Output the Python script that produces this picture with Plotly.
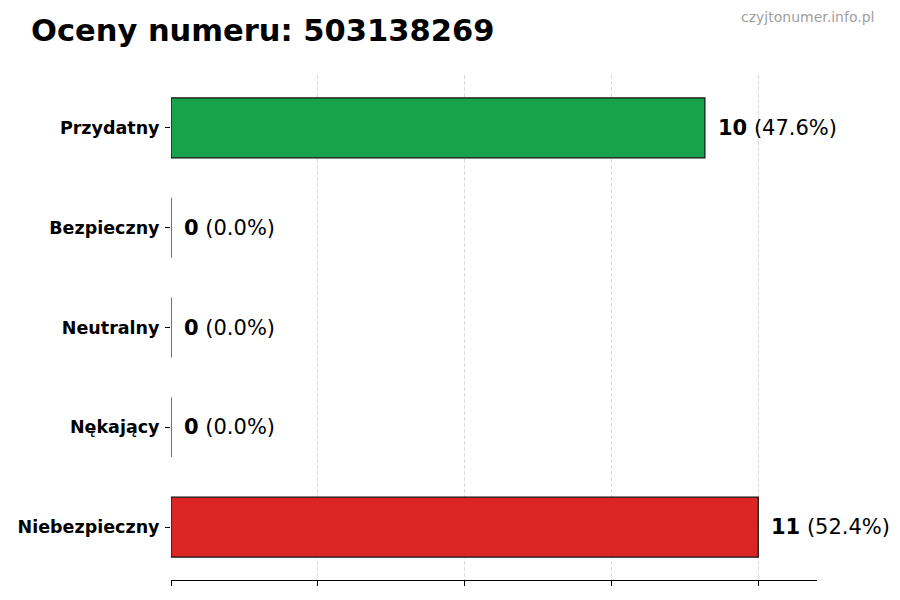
import plotly.graph_objects as go

categories = ["Przydatny", "Bezpieczny", "Neutralny", "Nękający", "Niebezpieczny"]
counts = [10, 0, 0, 0, 11]
percents = [47.6, 0.0, 0.0, 0.0, 52.4]
colors = ["#16a34a", "#16a34a", "#16a34a", "#dc2626", "#dc2626"]
title_text = "Oceny numeru: 503138269"
watermark = "czyjtonumer.info.pl"
x_ticks = [0, 2.75, 5.5, 8.25, 11]

# plot bottom-to-top: reverse order
cats_r = categories[::-1]
counts_r = counts[::-1]
perc_r = percents[::-1]
colors_r = colors[::-1]

W, H = 900, 600
L, R, T, B = 171, 83, 75, 20
plot_h = H - T - B

fig = go.Figure()
fig.add_trace(go.Bar(
    y=cats_r, x=counts_r, orientation="h", width=0.6,
    marker=dict(color=colors_r, line=dict(color="#111111", width=1.2)),
    hoverinfo="skip",
))

FONT = "DejaVu Sans"
annotations = []
for c, v, p in zip(cats_r, counts_r, perc_r):
    annotations.append(dict(
        x=v, y=c, xref="x", yref="y", xanchor="left", yanchor="middle",
        xshift=11, showarrow=False,
        text=f"<b>{v}</b> ({p:.1f}%)",
        font=dict(family=FONT, size=21, color="#000000"),
    ))
annotations.append(dict(
    x=(876 - L) / (W - L - R), y=1 + (T - 17) / plot_h, xref="paper", yref="paper",
    xanchor="right", yanchor="middle", showarrow=False, text=watermark,
    font=dict(family=FONT, size=14, color="#a0a0a0"),
))

fig.update_layout(
    width=W, height=H,
    margin=dict(l=L, r=R, t=T, b=B),
    plot_bgcolor="white", paper_bgcolor="white",
    showlegend=False,
    title=dict(text=f"<b>{title_text}</b>", x=31 / W, xanchor="left",
               xref="container", yref="container", y=1 - 30 / H, yanchor="middle",
               font=dict(family=FONT, size=30.5, color="#000000")),
    annotations=annotations,
    xaxis=dict(range=[0, 12.1], tickvals=x_ticks, showticklabels=False,
               ticks="outside", ticklen=5, tickcolor="#000", tickwidth=1,
               showline=True, linecolor="#000", linewidth=1.2,
               showgrid=True, gridcolor="#dadada", griddash="4px,2px", gridwidth=0.8,
               zeroline=False, fixedrange=True),
    yaxis=dict(range=[-0.53, 4.53], ticks="outside", ticklen=5, tickcolor="#000",
               tickfont=dict(family=FONT, size=17.5, color="#000"),
               ticklabelstandoff=2,
               showline=False, showgrid=False, zeroline=False,
               categoryorder="array", categoryarray=cats_r, fixedrange=True),
    bargap=0.4,
)
fig.update_yaxes(tickprefix="<b>", ticksuffix="</b>")

fig.write_html("out.html", config={"displayModeBar": False},
               post_script="document.body.style.margin='0';")
